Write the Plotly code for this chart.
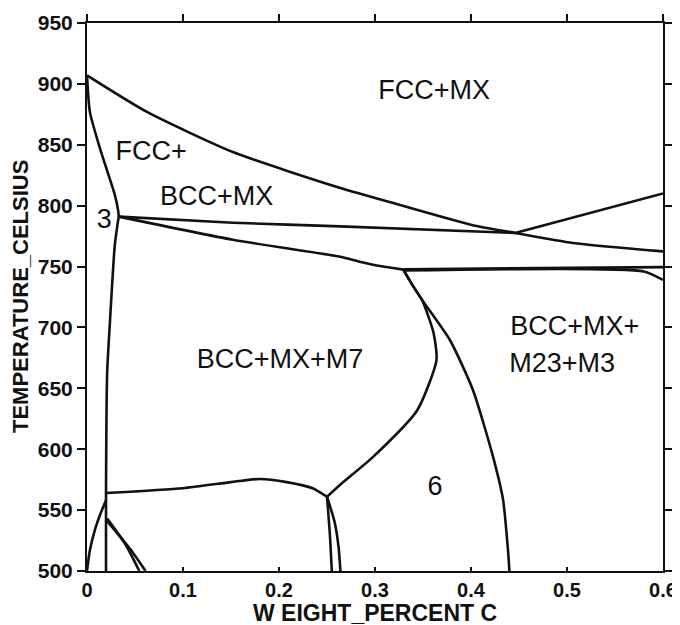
import plotly.graph_objects as go

# ---- boundary curves (weight % C, temperature °C) ----
fcc_upper_x = [0, 0.0625, 0.152, 0.264, 0.326, 0.402, 0.446, 0.506, 0.6]
fcc_upper_y = [907, 877, 844, 814.5, 800.6, 784, 777.6, 769.4, 762.5]

rise_x = [0.446, 0.6]
rise_y = [777.6, 810]

mid_upper_x = [0.033, 0.152, 0.264, 0.446]
mid_upper_y = [791, 786, 783, 777.6]

mid_lower_x = [0.033, 0.152, 0.264, 0.284, 0.305, 0.3295]
mid_lower_y = [791, 772, 758, 754, 750.5, 747.5]

eut_upper_x = [0.3295, 0.6]
eut_upper_y = [747.8, 749.5]

eut_lower_x = [0.3295, 0.58, 0.6]
eut_lower_y = [746.8, 746.0, 739]

left_fcc_x = [0, 0.003, 0.0135, 0.029, 0.0326, 0.033]
left_fcc_y = [907, 877, 847, 808.8, 795, 791]

left_vert_x = [0.033, 0.029, 0.024, 0.021, 0.0198, 0.0198]
left_vert_y = [791, 768, 706, 663, 564, 500]

m7_top_x = [0.0198, 0.1, 0.15, 0.18, 0.208, 0.235, 0.25]
m7_top_y = [564, 568, 573, 575.6, 573, 568, 561]

inner_x = [0.25, 0.2635, 0.298, 0.344, 0.364, 0.361, 0.349, 0.34, 0.3295]
inner_y = [561, 570.7, 593.7, 632, 673, 695.5, 722.6, 733.5, 747.5]

outer_x = [0.3295, 0.34, 0.349, 0.378, 0.402, 0.423, 0.4335, 0.4385, 0.44]
outer_y = [747.5, 733.5, 722.6, 689.7, 648.7, 593.7, 558, 517.3, 500]

v25a_x = [0.25, 0.253, 0.255]
v25a_y = [561, 530, 500]

v25b_x = [0.25, 0.258, 0.262, 0.264]
v25b_y = [561, 540, 520, 500]

bl_curve_x = [0, 0.003, 0.0083, 0.0135, 0.0198]
bl_curve_y = [500, 517, 534, 546, 558]

diag_a_x = [0.021, 0.04, 0.0545]
diag_a_y = [543, 522, 500]

diag_b_x = [0.021, 0.045, 0.061]
diag_b_y = [541, 518, 500]

curves = [
    (fcc_upper_x, fcc_upper_y), (rise_x, rise_y), (mid_upper_x, mid_upper_y),
    (mid_lower_x, mid_lower_y), (eut_upper_x, eut_upper_y), (eut_lower_x, eut_lower_y),
    (left_fcc_x, left_fcc_y), (left_vert_x, left_vert_y), (m7_top_x, m7_top_y),
    (inner_x, inner_y), (outer_x, outer_y), (v25a_x, v25a_y), (v25b_x, v25b_y),
    (bl_curve_x, bl_curve_y), (diag_a_x, diag_a_y), (diag_b_x, diag_b_y),
]

# ---- region labels ----
label_text = ["FCC+MX", "FCC+", "BCC+MX", "3", "BCC+MX+M7", "BCC+MX+", "M23+M3", "6"]
label_x = [0.3615, 0.0667, 0.135, 0.018, 0.201, 0.508, 0.495, 0.3625]
label_y = [892.8, 843.3, 806.3, 787.4, 672.5, 699.6, 669.2, 568.2]

x_ticks = [0, 0.1, 0.2, 0.3, 0.4, 0.5, 0.6]
x_tick_text = ["0", "0.1", "0.2", "0.3", "0.4", "0.5", "0.6"]
y_ticks = [500, 550, 600, 650, 700, 750, 800, 850, 900, 950]

x_title = "W EIGHT_PERCENT C"
y_title = "TEMPERATURE_CELSIUS"

FONT = "Liberation Sans, Arial"
INK = "#111111"

fig = go.Figure()
for cx, cy in curves:
    fig.add_trace(go.Scatter(x=cx, y=cy, mode="lines",
                             line=dict(color=INK, width=2.6, shape="spline", smoothing=0.6),
                             hoverinfo="skip", showlegend=False))

fig.add_trace(go.Scatter(x=label_x, y=label_y, text=label_text, mode="text",
                         textfont=dict(family=FONT, size=27, color=INK),
                         textposition="middle center", showlegend=False, hoverinfo="skip"))

# invisible trace bound to the top axis so its outward ticks are drawn
fig.add_trace(go.Scatter(x=[x_ticks[0], x_ticks[-1]], y=[y_ticks[0], y_ticks[0]],
                         xaxis="x2", yaxis="y", mode="markers",
                         marker=dict(size=1, opacity=0),
                         showlegend=False, hoverinfo="skip"))

tick_font = dict(family=FONT, size=20, color=INK, weight="bold")

# page body has an 8px margin, so the canvas is 8px smaller on each axis
fig.update_layout(
    width=672, height=617,
    margin=dict(l=79, r=17, t=15, b=54, autoexpand=False),
    paper_bgcolor="white", plot_bgcolor="white",
    xaxis=dict(range=[0, 0.6], tickvals=x_ticks, ticktext=x_tick_text,
               showline=True, linecolor=INK, linewidth=2, mirror=True,
               ticks="inside", ticklen=4, tickwidth=2, tickcolor=INK,
               showgrid=False, zeroline=False, automargin=False, tickfont=tick_font),
    xaxis2=dict(range=[0, 0.6], tickmode="array", tickvals=x_ticks,
                overlaying="x", anchor="y", side="top", visible=True,
                showline=False, ticks="outside", ticklen=8, tickwidth=2, tickcolor=INK,
                showticklabels=False, showgrid=False, zeroline=False, automargin=False),
    yaxis=dict(range=[500, 950], tickvals=y_ticks,
               showline=True, linecolor=INK, linewidth=2, mirror="ticks",
               ticks="outside", ticklen=8, tickwidth=2, tickcolor=INK,
               showgrid=False, zeroline=False, automargin=False,
               tickfont=dict(family=FONT, size=21, color=INK, weight="bold")),
    annotations=[
        dict(text=x_title, xref="paper", yref="paper", x=0.5, y=0, yshift=-42,
             xanchor="center", yanchor="middle", showarrow=False,
             font=dict(family=FONT, size=23, color=INK, weight="bold")),
        dict(text=y_title, xref="paper", yref="paper", x=0, y=0.5, xshift=-67,
             xanchor="center", yanchor="middle", textangle=-90, showarrow=False,
             font=dict(family=FONT, size=22, color=INK, weight="bold")),
    ],
)

fig.write_html("out.html")
